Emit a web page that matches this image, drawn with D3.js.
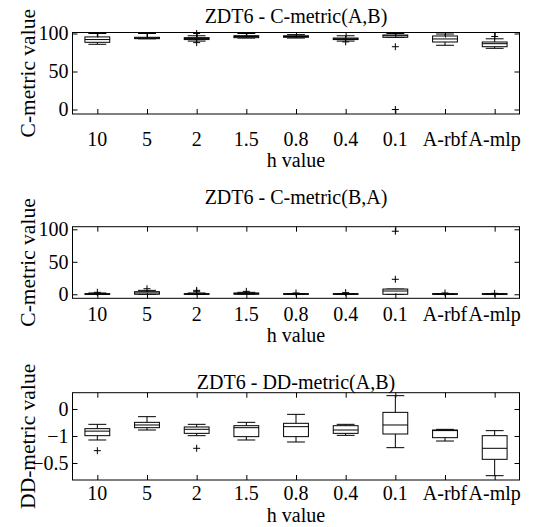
<!DOCTYPE html>
<html>
<head>
<meta charset="utf-8">
<script src="https://cdn.jsdelivr.net/npm/d3@7"></script>
<style>
  html, body { margin: 0; padding: 0; background: #fff; }
  svg { display: block; }
</style>
</head>
<body>
<svg id="chart" width="560" height="527" font-family="'Liberation Serif', 'Times New Roman', serif"></svg>
<script>
// ---------- data ----------
const categories = ["10", "5", "2", "1.5", "0.8", "0.4", "0.1", "A-rbf", "A-mlp"];

// box stats per category: [lower whisker, q1, median, q3, upper whisker]
const cMetricAB = [
  [85.8, 88.4, 92.0, 95.5, 100],
  [93.0, 93.2, 94.0, 95.0, 100],
  [90.0, 92.0, 93.5, 94.5, 97],
  [94.0, 94.5, 96.0, 97.1, 100],
  [94.0, 95.0, 96.0, 97.0, 98.5],
  [90.0, 92.0, 93.0, 94.0, 97],
  [95.0, 95.0, 97.0, 98.0, 100],
  [84.5, 88.8, 92.8, 96.7, 99.3],
  [80.5, 82.6, 86.6, 88.8, 93]
];
const cMetricABOutliers = [[], [], [100, 88], [], [], [89], [82.6, 0], [], [96]];

const cMetricBA = [
  [0, 0, 0, 1, 2],
  [0, 0, 2, 4, 6],
  [0, 0, 0, 1, 2],
  [0, 0, 1, 2, 3],
  [0, 0, 0, 1, 1],
  [0, 0, 0, 1, 1],
  [0, 0, 5, 8, 8],
  [0, 0, 0, 1, 1],
  [0, 0, 0, 1, 1]
];
const cMetricBAOutliers = [[3], [8.5], [4, 6], [4.5], [2], [2.5], [23, 97], [2], [1.5]];

const ddMetricAB = [
  [-0.574, -0.494, -0.410, -0.364, -0.284],
  [-0.389, -0.346, -0.296, -0.247, -0.142],
  [-0.494, -0.451, -0.376, -0.333, -0.284],
  [-0.574, -0.512, -0.346, -0.309, -0.247],
  [-0.611, -0.512, -0.327, -0.265, -0.099],
  [-0.488, -0.451, -0.389, -0.309, -0.284],
  [-0.716, -0.463, -0.296, -0.062, 0.247],
  [-0.593, -0.531, -0.400, -0.389, -0.377],
  [-1.235, -0.932, -0.728, -0.494, -0.401]
];
const ddMetricABOutliers = [[-0.772], [], [-0.728], [], [], [], [], [], []];

const cTickValues = [0, 50, 100];
const cTickLabels = ["0", "50", "100"];
const ddTickValues = [0, -0.5, -1];
const ddTickLabels = ["0", "\u22121", "\u22120.5"];

const titles = ["ZDT6 - C-metric(A,B)", "ZDT6 - C-metric(B,A)", "ZDT6 - DD-metric(A,B)"];
const yLabels = ["C-metric value", "C-metric value", "DD-metric value"];
const xLabel = "h value";

// ---------- layout ----------
const FONT = "'Liberation Serif', 'Times New Roman', serif";
const plotLeft = 72.5, plotRight = 519.5;
const panels = [
  { stats: cMetricAB, outliers: cMetricABOutliers, ticks: cTickValues, tickLabels: cTickLabels,
    domain: [-5.9, 101.3], top: 32.5, bottom: 114, titleY: 23, tickLabelY: 145.5, xLabelY: 167 },
  { stats: cMetricBA, outliers: cMetricBAOutliers, ticks: cTickValues, tickLabels: cTickLabels,
    domain: [-6.2, 104], top: 226.7, bottom: 298.3, titleY: 204, tickLabelY: 320.5, xLabelY: 342 },
  { stats: ddMetricAB, outliers: ddMetricABOutliers, ticks: ddTickValues, tickLabels: ddTickLabels,
    domain: [-1.315, 0.302], top: 392.7, bottom: 480, titleY: 389, tickLabelY: 499.5, xLabelY: 522 }
];

const svg = d3.select("#chart");
const x = d3.scaleLinear().domain([0.5, categories.length + 0.5]).range([plotLeft, plotRight]);
const boxW = 0.5, capW = 0.36, plusR = 3.5;
const fs = 20;

function txt(sel, size) {
  return sel.attr("font-family", FONT).attr("font-size", size || fs).attr("fill", "#000");
}

panels.forEach((p, pi) => {
  const y = d3.scaleLinear().domain(p.domain).range([p.bottom, p.top]);
  const g = svg.append("g");

  p.stats.forEach((s, i) => {
    const cx = x(i + 1);
    const bx0 = x(i + 1 - boxW / 2), bx1 = x(i + 1 + boxW / 2);
    const cx0 = x(i + 1 - capW / 2), cx1 = x(i + 1 + capW / 2);
    const [lo, q1, med, q3, hi] = s;
    const bg = g.append("g").attr("stroke", "#000").attr("stroke-width", 1).attr("fill", "none");
    bg.append("line").attr("x1", cx).attr("x2", cx).attr("y1", y(q3)).attr("y2", y(hi));
    bg.append("line").attr("x1", cx).attr("x2", cx).attr("y1", y(q1)).attr("y2", y(lo));
    bg.append("line").attr("x1", cx0).attr("x2", cx1).attr("y1", y(hi)).attr("y2", y(hi));
    bg.append("line").attr("x1", cx0).attr("x2", cx1).attr("y1", y(lo)).attr("y2", y(lo));
    bg.append("rect").attr("x", bx0).attr("y", y(q3))
      .attr("width", bx1 - bx0).attr("height", Math.max(0.5, y(q1) - y(q3)))
      .attr("fill", "#fff");
    bg.append("line").attr("x1", bx0).attr("x2", bx1).attr("y1", y(med)).attr("y2", y(med));
    p.outliers[i].forEach(v => {
      const yy = y(v);
      bg.append("path").attr("d", `M${cx - plusR},${yy}H${cx + plusR}M${cx},${yy - plusR}V${yy + plusR}`);
    });
  });

  g.append("rect").attr("x", plotLeft).attr("y", p.top)
    .attr("width", plotRight - plotLeft).attr("height", p.bottom - p.top)
    .attr("fill", "none").attr("stroke", "#000").attr("stroke-width", 1);

  const yLeft = d3.axisLeft(y).tickValues(p.ticks).tickSizeInner(-5).tickSizeOuter(0).tickPadding(4)
    .tickFormat((d, k) => p.tickLabels[k]);
  const ax = g.append("g").attr("transform", `translate(${plotLeft},0)`).call(yLeft);
  ax.attr("font-family", FONT).attr("font-size", fs);
  ax.select(".domain").remove();
  txt(ax.selectAll("text"));

  const yRight = d3.axisRight(y).tickValues(p.ticks).tickSizeInner(-5).tickSizeOuter(0).tickFormat("");
  const ar = g.append("g").attr("transform", `translate(${plotRight},0)`).call(yRight);
  ar.select(".domain").remove();

  const xBottom = d3.axisBottom(x).tickValues(d3.range(1, categories.length + 1))
    .tickSizeInner(-5).tickSizeOuter(0).tickFormat("");
  const ab = g.append("g").attr("transform", `translate(0,${p.bottom})`).call(xBottom);
  ab.select(".domain").remove();

  const xTop = d3.axisTop(x).tickValues(d3.range(1, categories.length + 1))
    .tickSizeInner(-5).tickSizeOuter(0).tickFormat("");
  const at = g.append("g").attr("transform", `translate(0,${p.top})`).call(xTop);
  at.select(".domain").remove();

  txt(g.selectAll("text.cat").data(categories).enter().append("text")
    .attr("class", "cat")
    .attr("x", (d, i) => x(i + 1)).attr("y", p.tickLabelY)
    .attr("text-anchor", "middle")).text(d => d);

  txt(g.append("text").attr("x", (plotLeft + plotRight) / 2).attr("y", p.xLabelY)
    .attr("text-anchor", "middle")).text(xLabel);

  txt(g.append("text").attr("x", (plotLeft + plotRight) / 2).attr("y", p.titleY)
    .attr("text-anchor", "middle")).text(titles[pi]);

  txt(g.append("text")
    .attr("transform", `translate(35,${(p.top + p.bottom) / 2}) rotate(-90)`)
    .attr("text-anchor", "middle"), 21.5).text(yLabels[pi]);
});
</script>
</body>
</html>
